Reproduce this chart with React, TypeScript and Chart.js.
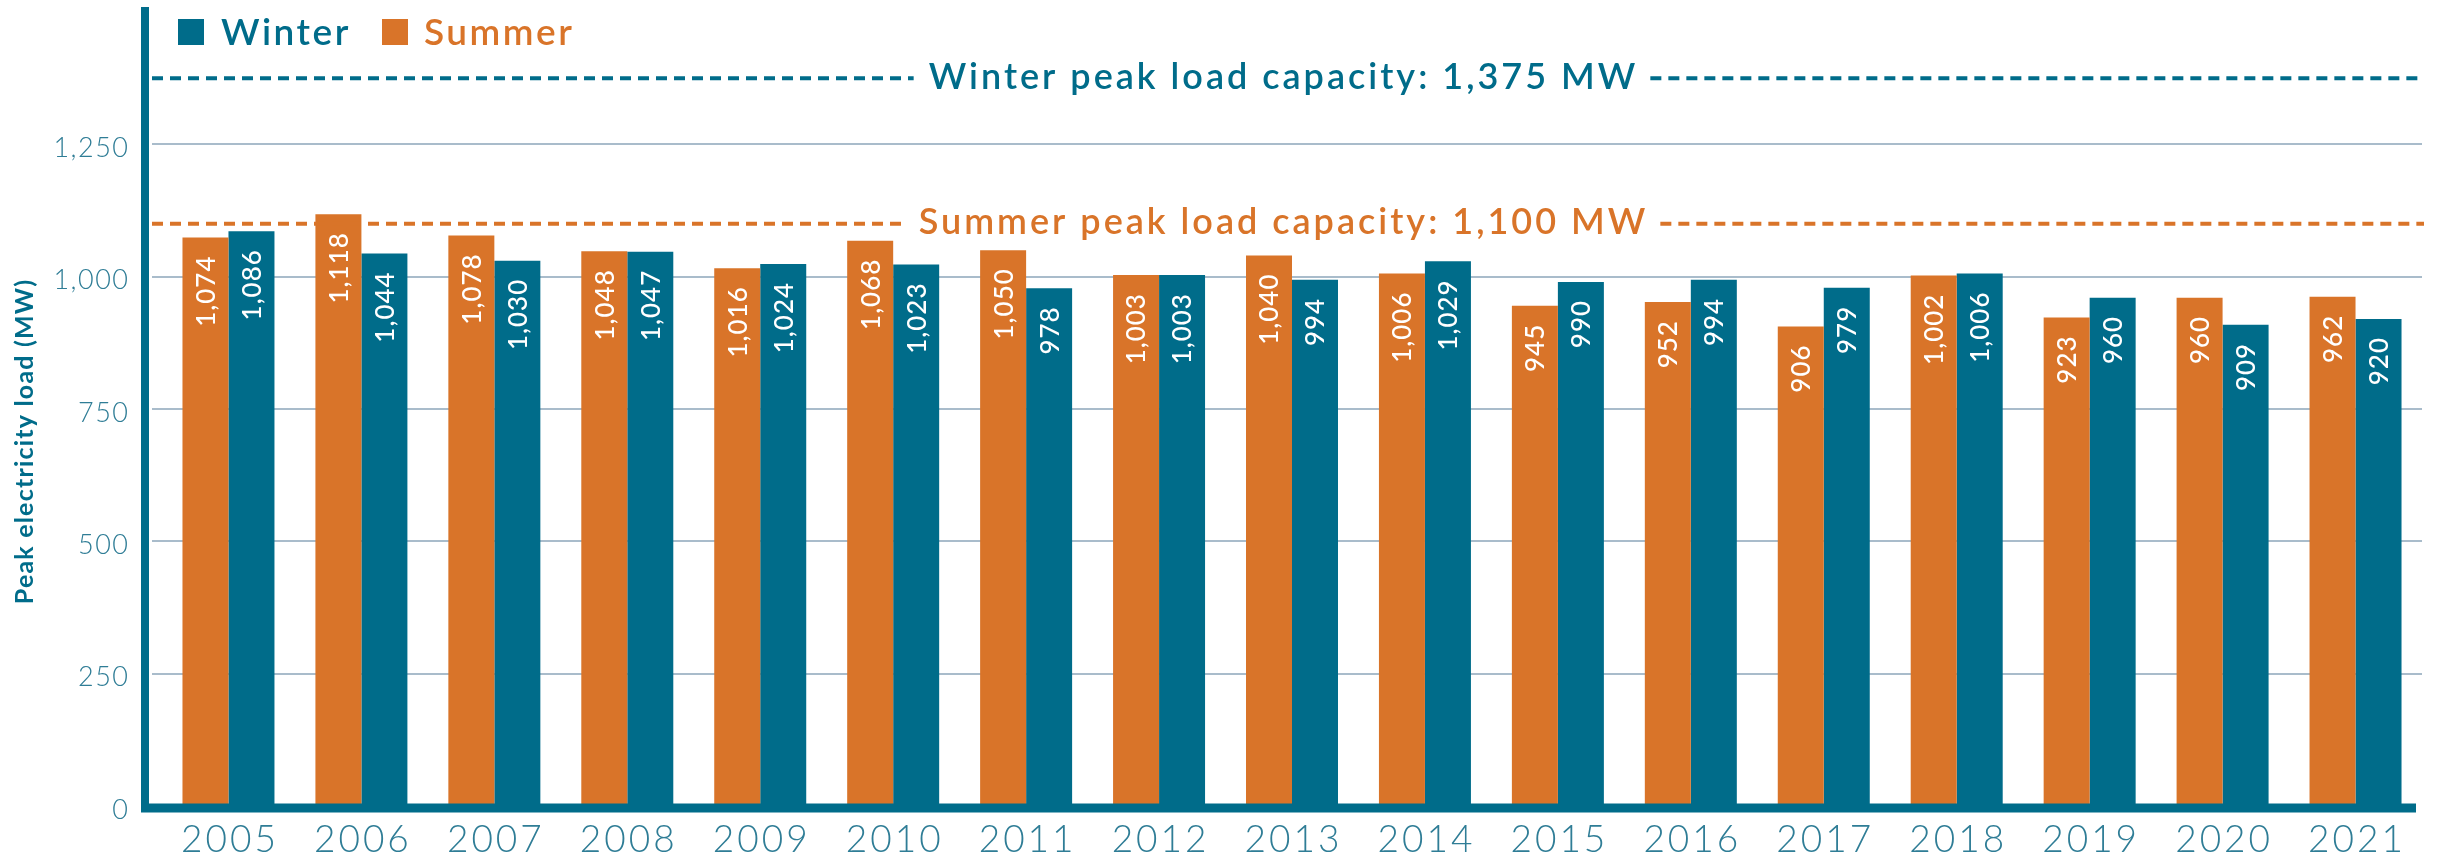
import React, { useEffect, useRef } from "react";
import { Chart, registerables } from "chart.js";

Chart.register(...registerables);

const years = ["2005", "2006", "2007", "2008", "2009", "2010", "2011", "2012", "2013", "2014", "2015", "2016", "2017", "2018", "2019", "2020", "2021"];
const summerLoad = [1074, 1118, 1078, 1048, 1016, 1068, 1050, 1003, 1040, 1006, 945, 952, 906, 1002, 923, 960, 962];
const winterLoad = [1086, 1044, 1030, 1047, 1024, 1023, 978, 1003, 994, 1029, 990, 994, 979, 1006, 960, 909, 920];
const winterCapacity = 1375;
const summerCapacity = 1100;
const winterCapacityLabel = "Winter peak load capacity: 1,375 MW";
const summerCapacityLabel = "Summer peak load capacity: 1,100 MW";
const yAxisTitle = "Peak electricity load (MW)";
const yMax = 1500;
const yStep = 250;

const TEAL = "#006c8a";
const ORANGE = "#d97429";
const GRID = "#a9bccb";
const TICK = "#2f7d96";
const FONT = "Lato";

const fmt = (v: number) => v.toLocaleString("en-US");

const decorPlugin = {
  id: "decor",
  afterDatasetsDraw(chart: any) {
    const ctx = chart.ctx;
    const y = chart.scales.y;
    const x = chart.scales.x;
    const area = chart.chartArea;
    ctx.save();

    // value labels inside bars
    ctx.fillStyle = "#ffffff";
    ctx.font = `500 26px ${FONT}`;
    ctx.letterSpacing = "1px";
    ctx.textAlign = "right";
    ctx.textBaseline = "middle";
    chart.data.datasets.forEach((ds: any, di: number) => {
      const meta = chart.getDatasetMeta(di);
      meta.data.forEach((bar: any, i: number) => {
        ctx.save();
        ctx.translate(bar.x, bar.y);
        ctx.rotate(-Math.PI / 2);
        ctx.fillText(fmt(ds.data[i]), -18, 1);
        ctx.restore();
      });
    });

    // axes lines
    const axisX = area.left - 17;
    ctx.strokeStyle = TEAL;
    ctx.lineWidth = 8;
    ctx.beginPath();
    ctx.moveTo(axisX, 7);
    ctx.lineTo(axisX, area.bottom + 6);
    ctx.stroke();
    ctx.lineWidth = 9;
    ctx.beginPath();
    ctx.moveTo(axisX - 4, area.bottom + 2);
    ctx.lineTo(area.right - 6, area.bottom + 2);
    ctx.stroke();

    // y tick labels
    ctx.fillStyle = TICK;
    ctx.font = `300 27px ${FONT}`;
    ctx.letterSpacing = "1.5px";
    ctx.textAlign = "right";
    ctx.textBaseline = "middle";
    y.ticks.forEach((t: any) => {
      if (t.value >= yMax) return;
      ctx.fillText(fmt(t.value), area.left - 34 + 1.5, y.getPixelForValue(t.value) + 4);
    });

    // x tick labels
    ctx.font = `300 37px ${FONT}`;
    ctx.letterSpacing = "3px";
    ctx.textAlign = "center";
    ctx.textBaseline = "alphabetic";
    chart.data.labels.forEach((lab: string, i: number) => {
      ctx.fillText(lab, x.getPixelForValue(i) + 1.5, 852);
    });

    // capacity lines
    const textCenter = 1282;
    const drawCap = (value: number, label: string, color: string) => {
      const py = y.getPixelForValue(value);
      ctx.font = `600 36px ${FONT}`;
      ctx.letterSpacing = "3px";
      const w = ctx.measureText(label).width - 3;
      const x0 = textCenter - w / 2;
      const x1 = textCenter + w / 2;
      ctx.strokeStyle = color;
      ctx.lineWidth = 4;
      ctx.setLineDash([11, 7]);
      ctx.beginPath();
      ctx.moveTo(axisX + 7, py);
      ctx.lineTo(x0 - 15, py);
      ctx.moveTo(x1 + 15, py);
      ctx.lineTo(area.right + 2, py);
      ctx.stroke();
      ctx.setLineDash([]);
      ctx.fillStyle = color;
      ctx.textAlign = "left";
      ctx.textBaseline = "middle";
      ctx.fillText(label, x0, py - 1);
    };
    drawCap(winterCapacity, winterCapacityLabel, TEAL);
    drawCap(summerCapacity, summerCapacityLabel, ORANGE);

    // legend
    ctx.font = `600 37px ${FONT}`;
    ctx.letterSpacing = "2.5px";
    ctx.textBaseline = "alphabetic";
    ctx.textAlign = "left";
    ctx.fillStyle = TEAL;
    ctx.fillRect(178, 19, 26, 26);
    ctx.fillText("Winter", 221, 45);
    ctx.fillStyle = ORANGE;
    ctx.fillRect(382, 19, 26, 26);
    ctx.fillText("Summer", 424, 45);

    // y title
    ctx.save();
    ctx.translate(25, 442);
    ctx.rotate(-Math.PI / 2);
    ctx.fillStyle = TEAL;
    ctx.font = `700 25px ${FONT}`;
    ctx.letterSpacing = "1.2px";
    ctx.textAlign = "center";
    ctx.textBaseline = "middle";
    ctx.fillText(yAxisTitle, 0.6, 0);
    ctx.restore();

    ctx.letterSpacing = "0px";
    ctx.restore();
  },
};

export default function App() {
  const ref = useRef<HTMLCanvasElement>(null);
  useEffect(() => {
    if (!ref.current) return;
    const chart = new Chart(ref.current, {
      type: "bar",
      data: {
        labels: years,
        datasets: [
          { label: "Summer", data: summerLoad, backgroundColor: ORANGE, categoryPercentage: 0.692, barPercentage: 1.0 },
          { label: "Winter", data: winterLoad, backgroundColor: TEAL, categoryPercentage: 0.692, barPercentage: 1.0 },
        ],
      },
      options: {
        responsive: false,
        animation: false,
        devicePixelRatio: 1,
        layout: { padding: { left: 0, top: 12, right: 18, bottom: 0 } },
        plugins: { legend: { display: false }, tooltip: { enabled: false }, title: { display: false } },
        scales: {
          x: {
            grid: { display: false, drawTicks: false },
            border: { display: false },
            ticks: { display: false },
            afterFit: (s: any) => { s.height = 53; s.paddingLeft = 0; s.paddingRight = 0; },
          },
          y: {
            min: 0,
            max: yMax,
            border: { display: false },
            grid: {
              color: (c: any) => (c.tick && (c.tick.value === yMax || c.tick.value === 0) ? "rgba(0,0,0,0)" : GRID),
              lineWidth: 2,
              tickLength: 10,
              drawTicks: true,
            },
            ticks: { display: false, stepSize: yStep },
            afterFit: (s: any) => { s.width = 162; s.paddingTop = 0; s.paddingBottom = 0; },
          },
        },
      },
      plugins: [decorPlugin],
    });
    return () => chart.destroy();
  }, []);
  return (
    <div style={{ position: "fixed", left: 0, top: 0, width: 2440, height: 859, background: "#fff" }}>
      <canvas ref={ref} width={2440} height={859} style={{ width: 2440, height: 859 }} />
    </div>
  );
}
